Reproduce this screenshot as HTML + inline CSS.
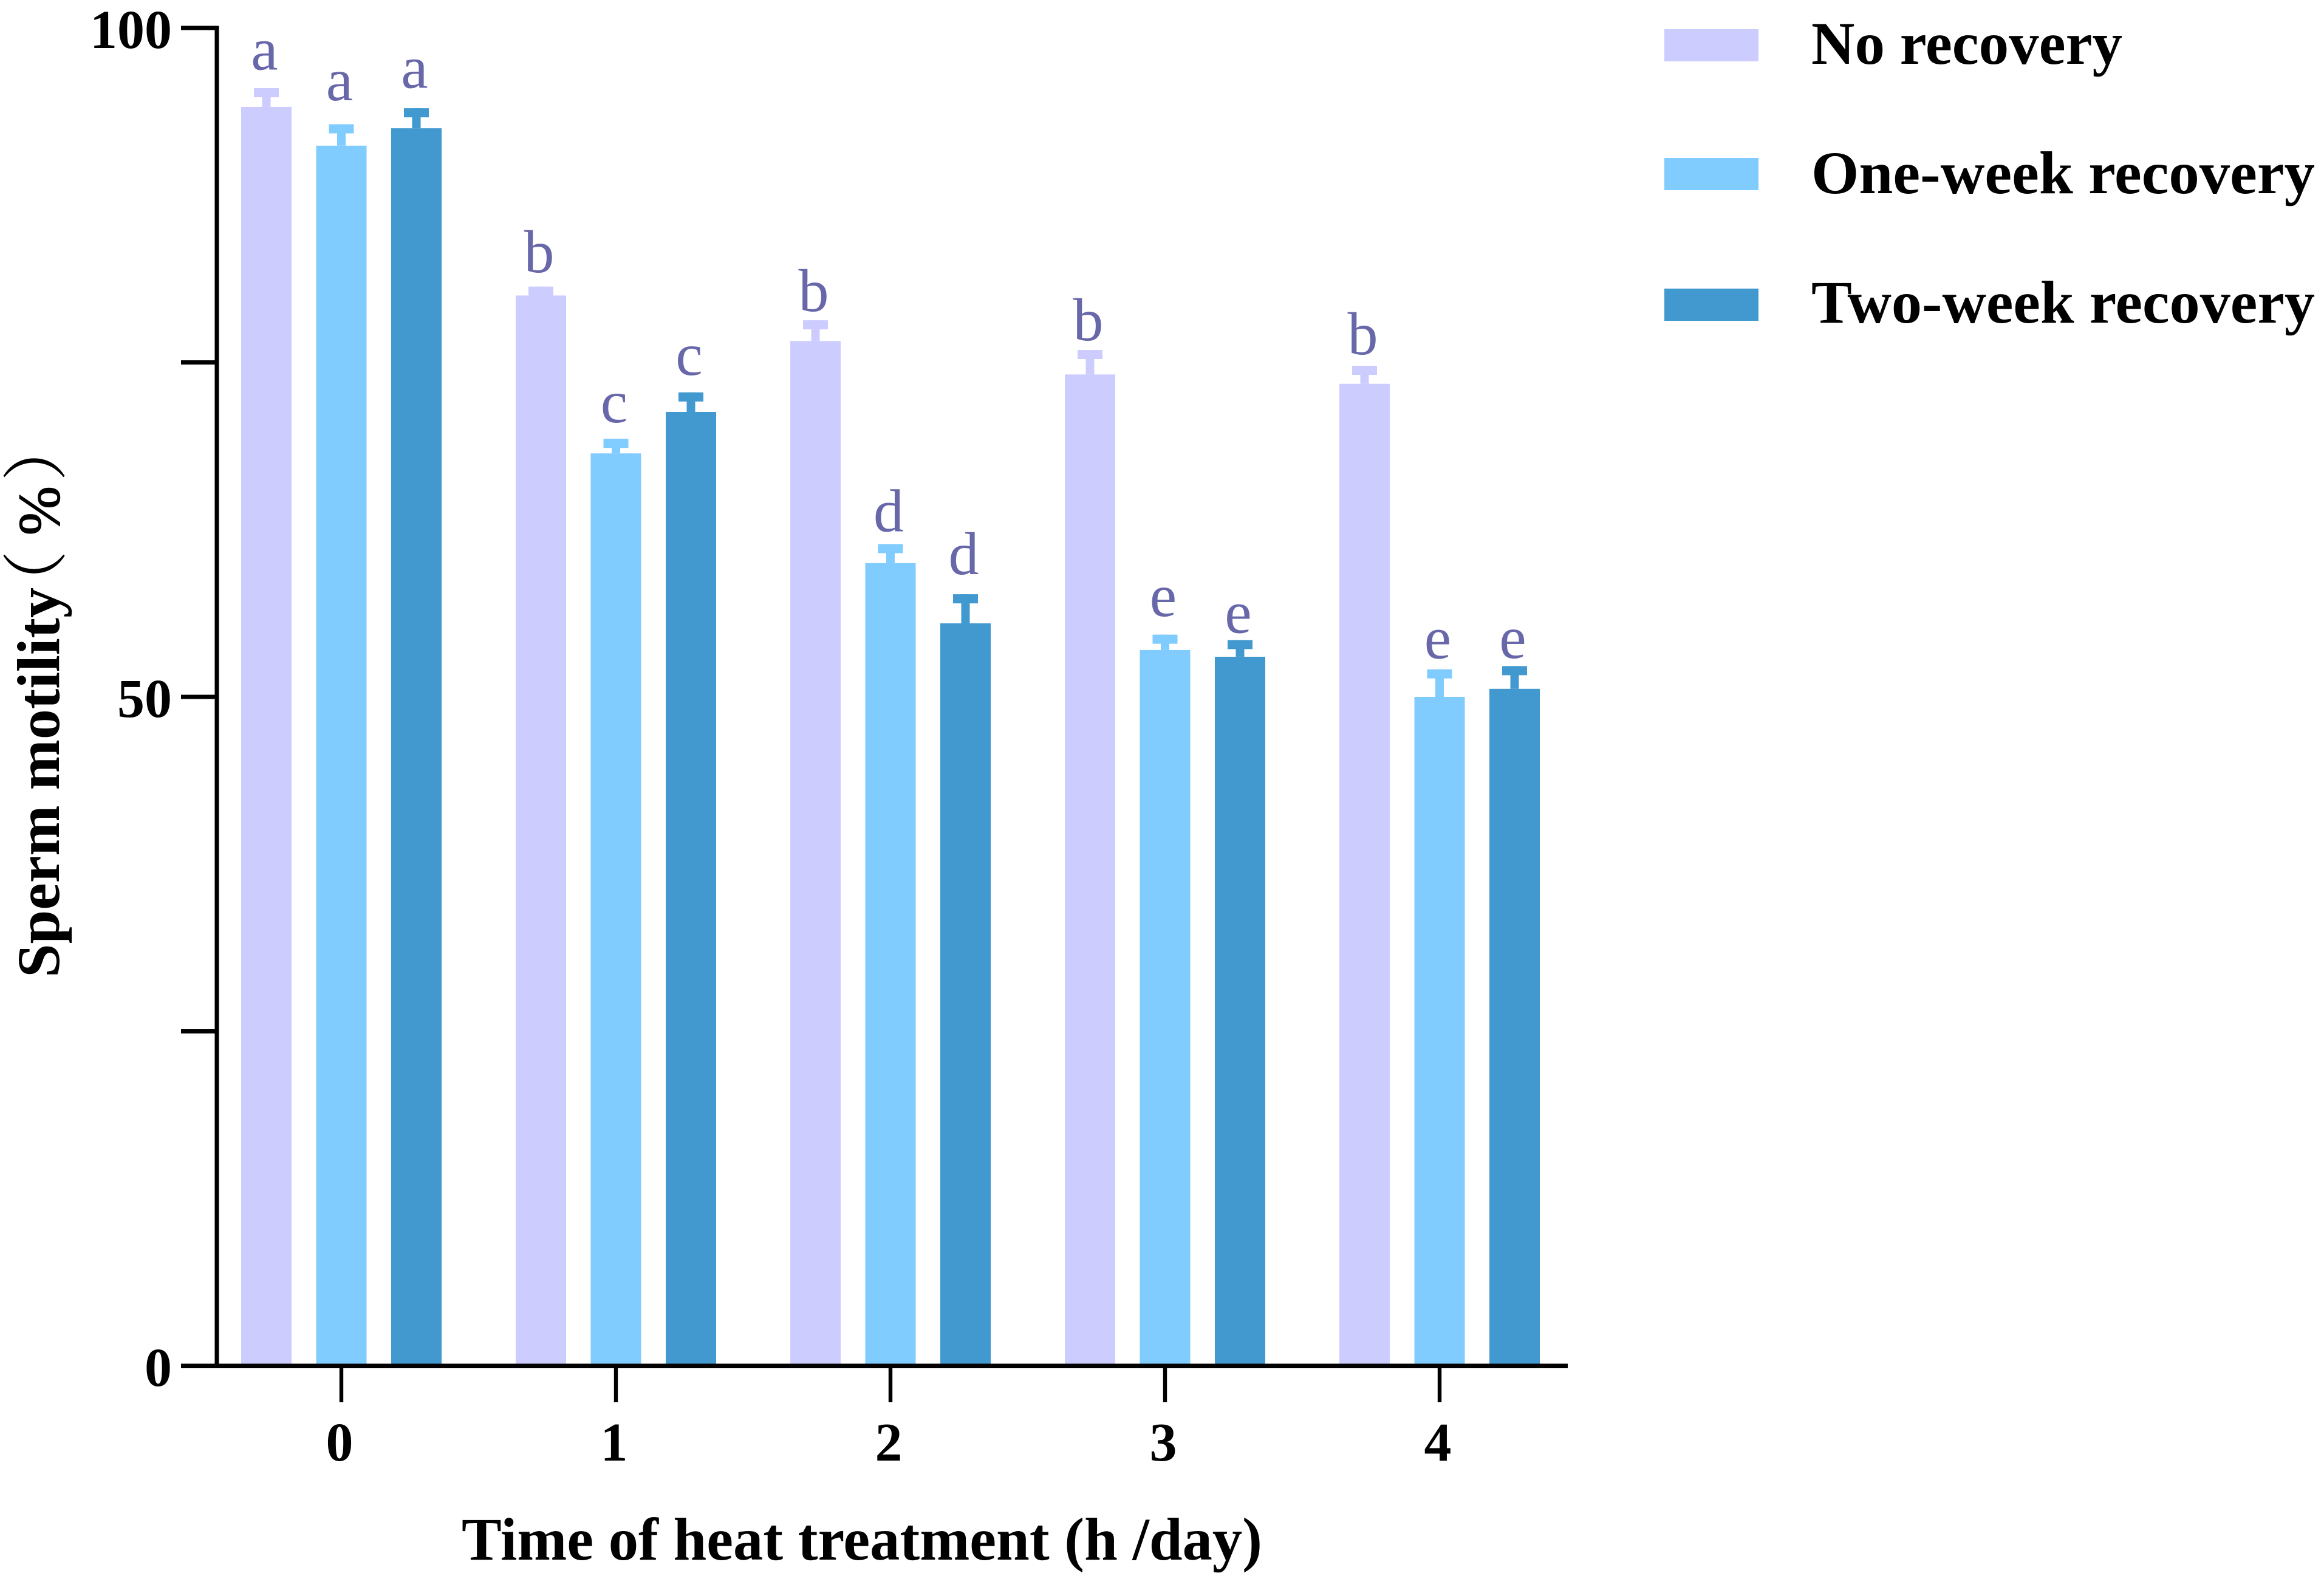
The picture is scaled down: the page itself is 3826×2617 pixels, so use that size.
<!DOCTYPE html>
<html lang="en">
<head>
<meta charset="utf-8">
<title>Sperm motility by heat treatment time</title>
<style>
html,body{margin:0;padding:0;background:#fff;}
svg{display:block;}
text{font-family:"Liberation Serif","Noto Serif CJK SC",serif;}
.bold{font-weight:bold;fill:#000;}
</style>
</head>
<body>
<svg id="chart" xmlns="http://www.w3.org/2000/svg" width="3826" height="2617" viewBox="0 0 3826 2617">
  <rect x="0" y="0" width="3826" height="2617" fill="#ffffff"/>
  <g id="bars"></g>
  <g id="axes"></g>
  <g id="letters"></g>

  <g transform="translate(97,1609) rotate(-90)">
    <text class="bold" x="0" y="0" font-size="100" textLength="642" lengthAdjust="spacingAndGlyphs">Sperm motility</text>
    <text x="595" y="0" font-size="108" style="font-family:'Noto Serif CJK SC',serif" fill="#000">（</text>
    <text x="728" y="0" font-size="97" fill="#000" stroke="#000" stroke-width="1.5">%</text>
    <text x="817" y="0" font-size="108" style="font-family:'Noto Serif CJK SC',serif" fill="#000">）</text>
  </g>
  <text class="bold" x="760" y="2567" font-size="100" textLength="1318" lengthAdjust="spacingAndGlyphs">Time of heat treatment (h /day)</text>

  <g>
    <g>
      <rect x="2740" y="48" width="155" height="53" fill="#CCCCFF"/>
      <text class="bold" x="2982" y="105" font-size="100" textLength="512" lengthAdjust="spacingAndGlyphs">No recovery</text>
    </g>
    <g>
      <rect x="2740" y="260" width="155" height="53" fill="#80CCFF"/>
      <text class="bold" x="2982" y="318" font-size="100" textLength="829" lengthAdjust="spacingAndGlyphs">One-week recovery</text>
    </g>
    <g>
      <rect x="2740" y="475" width="155" height="53" fill="#4199CF"/>
      <text class="bold" x="2982" y="531" font-size="100" textLength="829" lengthAdjust="spacingAndGlyphs">Two-week recovery</text>
    </g>
  </g>
</svg>
<script>
// Chart data
var categories = ['0', '1', '2', '3', '4'];
var seriesNames = ['no-recovery', 'one-week-recovery', 'two-week-recovery'];
var seriesColors = ['#CCCCFF', '#80CCFF', '#4199CF'];

var noRecovery = [94.1, 80.0, 76.6, 74.1, 73.4];
var oneWeekRecovery = [91.2, 68.2, 60.0, 53.5, 50.0];
var twoWeekRecovery = [92.5, 71.3, 55.5, 53.0, 50.6];

var noRecoveryError = [1.4, 0.67, 1.55, 1.83, 1.35];
var oneWeekRecoveryError = [1.6, 1.09, 1.42, 1.15, 2.06];
var twoWeekRecoveryError = [1.5, 1.46, 2.17, 1.25, 1.7];

var noRecoveryLetters = ['a', 'b', 'b', 'b', 'b'];
var oneWeekRecoveryLetters = ['a', 'c', 'd', 'e', 'e'];
var twoWeekRecoveryLetters = ['a', 'c', 'd', 'e', 'e'];

// Height of each letter above its error bar, in y-axis units
var noRecoveryLetterLift = [1.39, 1.07, 0.68, 0.73, 0.87];
var oneWeekRecoveryLetterLift = [1.8, 1.24, 0.95, 1.39, 0.82];
var twoWeekRecoveryLetterLift = [1.53, 1.32, 1.5, 0.53, 0.6];

var yTicks = [0, 25, 50, 75, 100];
var yTickLabels = ['0', '', '50', '', '100'];

var seriesValues = [noRecovery, oneWeekRecovery, twoWeekRecovery];
var seriesErrors = [noRecoveryError, oneWeekRecoveryError, twoWeekRecoveryError];
var seriesLetters = [noRecoveryLetters, oneWeekRecoveryLetters, twoWeekRecoveryLetters];
var seriesLifts = [noRecoveryLetterLift, oneWeekRecoveryLetterLift, twoWeekRecoveryLetterLift];

var NS = 'http://www.w3.org/2000/svg';
var Y0 = 2248, Y100 = 46;
function yScale(v) { return Y0 + (Y100 - Y0) * v / 100; }
function xCategory(i) { return 562 + 452 * i; }
function xBar(i, s) { return xCategory(i) + (s - 1) * 123.5; }

function make(tag, parent, props) {
  var el = document.createElementNS(NS, tag);
  for (var k in props) { el.setAttribute(k, props[k]); }
  parent.appendChild(el);
  return el;
}

var barsLayer = document.getElementById('bars');
var axesLayer = document.getElementById('axes');
var lettersLayer = document.getElementById('letters');

seriesValues.forEach(function (values, s) {
  values.forEach(function (v, i) {
    var cx = xBar(i, s);
    var top = yScale(v);
    var errTop = yScale(v + seriesErrors[s][i]);
    var color = seriesColors[s];
    var key = seriesNames[s] + '-' + categories[i];

    var bar = make('rect', barsLayer, { x: cx - 41.5, y: top, width: 83, height: Y0 - top, fill: color });
    
    

    var stem = make('rect', barsLayer, { x: cx - 7, y: errTop, width: 14, height: top - errTop, fill: color });
    
    

    var cap = make('rect', barsLayer, { x: cx - 20.5, y: errTop, width: 41, height: 15, fill: color });
    
    

    var letterY = yScale(v + seriesErrors[s][i] + seriesLifts[s][i]);
    var letter = make('text', lettersLayer, { x: cx - 3, y: letterY, 'text-anchor': 'middle', 'font-size': 100, fill: '#6767A9' });
    
    
    letter.textContent = seriesLetters[s][i];
  });
});

var yAxisLine = make('rect', axesLayer, { x: 353.5, y: 42.5, width: 7, height: Y0 - 42.5, fill: '#000' });



var xAxisLine = make('rect', axesLayer, { x: 298, y: Y0 - 3.5, width: 2283, height: 7.5, fill: '#000' });



yTicks.forEach(function (t, i) {
  var y = yScale(t);
  var tick = make('rect', axesLayer, { x: 298, y: y - 3.5, width: 60, height: 7, fill: '#000' });
  
  
  if (yTickLabels[i]) {
    var label = make('text', axesLayer, { x: 283, y: y + 33, 'text-anchor': 'end', 'font-size': 90, 'font-weight': 'bold', fill: '#000' });
    
    
    label.textContent = yTickLabels[i];
  }
});

categories.forEach(function (c, i) {
  var x = xCategory(i);
  var tick = make('rect', axesLayer, { x: x - 3.2, y: Y0, width: 6.4, height: 60, fill: '#000' });
  
  
  var label = make('text', axesLayer, { x: x - 3, y: 2404, 'text-anchor': 'middle', 'font-size': 90, 'font-weight': 'bold', fill: '#000' });
  
  
  label.textContent = c;
});
</script>
</body>
</html>
